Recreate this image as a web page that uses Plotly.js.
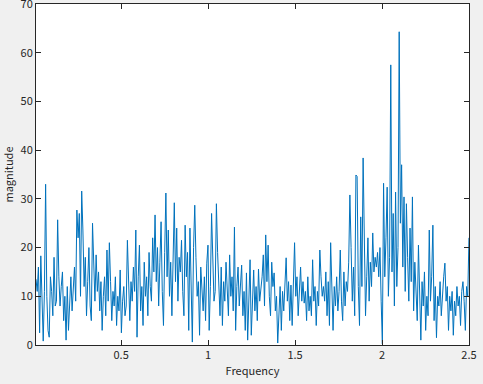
<!DOCTYPE html>
<html>
<head>
<meta charset="utf-8">
<script src="https://cdn.plot.ly/plotly-3.0.1.min.js"></script>
<style>html,body{margin:0;padding:0;background:#f0f0f0;}#chart{width:483px;height:384px;}</style>
</head>
<body>
<div id="chart"></div>
<script>
// Frequency grid (regular spacing)
const freqStart = 0.0107;
const freqStep = 0.006914;

// Spectrum magnitude values
const magnitude = [
  13.5, 11, 16, 2.5, 18.3, 7, 0.8, 11, 33, 10,
  3, 1.6, 14, 11, 6, 18, 8, 9, 25.7, 14,
  8, 12, 15, 5, 10, 1, 12, 3, 9, 14,
  7, 11, 16, 9, 27.7, 22, 27, 10, 31.6, 23.6,
  12, 18, 6, 13, 20, 8, 5, 25, 14, 9,
  18.5, 11, 15, 7, 13, 3, 10, 14, 6, 19.5,
  9, 21, 13, 5, 11, 8, 14, 4, 10, 7,
  15.4, 2.5, 9, 12, 6, 8, 21.5, 10, 5, 13,
  9, 16, 11, 23.6, 1.6, 14, 20.5, 7, 12, 4,
  17, 10, 14, 6, 19, 12, 9, 22, 15, 26.7,
  13, 20, 8, 17, 25.3, 11, 4, 19, 31.2, 14,
  23.6, 10, 17, 6, 21, 29.2, 13, 24, 9, 18,
  15, 21.5, 11, 6, 24.6, 14, 19, 3, 24, 12,
  0.6, 20, 28.7, 18, 10, 13, 2, 16, 11, 7,
  14, 5, 16.8, 20.5, 3, 12, 27, 15, 9, 11,
  29, 19, 12, 6, 16, 4, 13, 9, 17, 11,
  6, 18.5, 10, 14, 7, 24.2, 3, 12, 16, 8,
  12, 16.4, 6, 11, 3, 14.8, 1, 9, 17.5, 2,
  10, 15.4, 7, 12, 5, 15.6, 9, 11, 14, 18.5,
  8, 22.6, 13, 20.5, 10, 6, 17, 12, 14.8, 7,
  10, 0.4, 8, 12, 3, 11, 7, 14, 17.9, 9,
  13, 5, 12.3, 4, 15, 21, 10, 14, 6, 12,
  16, 9, 13, 8.6, 11, 5, 14, 7, 10, 6,
  17.5, 9, 12, 4, 11, 8, 19.5, 14, 10, 12,
  9, 15, 6, 13, 4, 21, 10, 3, 12, 8,
  14, 7, 11, 19.5, 9, 5, 15, 8, 13, 11,
  17, 30.8, 20, 9, 16, 6, 34.9, 34.6, 12, 4,
  26.3, 12, 38.4, 18, 6, 14, 22, 9, 17, 12,
  23, 15, 18, 16, 19, 14, 20, 9, 0.2, 33.2,
  14, 22, 32.4, 10, 18, 57.5, 15, 27, 8, 31.4,
  12, 20, 64.3, 25, 37, 16, 30.4, 11, 29, 18,
  9, 24, 13, 30.4, 7, 17, 10, 5, 20.5, 11,
  1, 13, 8, 15, 3, 10, 6, 23.6, 9, 14,
  24.6, 5, 12, 1.5, 10, 8, 13, 6, 11, 14,
  16.8, 9, 12, 3, 10, 7, 11, 2, 9, 6,
  12, 8, 10, 4, 11, 13, 9, 3, 12, 10,
  22
];

const xTicks = [0.5, 1, 1.5, 2, 2.5];
const xTickText = ['0.5', '1', '1.5', '2', '2.5'];
const yTicks = [0, 10, 20, 30, 40, 50, 60, 70];
const yTickText = ['0', '10', '20', '30', '40', '50', '60', '70'];

const fontFam = '"Noto Sans CJK JP", "Liberation Sans", Arial, sans-serif';
const axisCommon = {
  showgrid: false,
  zeroline: false,
  showline: true,
  linecolor: '#262626',
  linewidth: 1,
  mirror: 'ticks',
  ticks: 'inside',
  ticklen: 5,
  tickcolor: '#262626',
  ticklabeloverflow: 'allow',
  tickfont: {family: fontFam, size: 11, color: '#262626'}
};

const trace = {
  type: 'scatter',
  mode: 'lines',
  x0: freqStart,
  dx: freqStep,
  y: magnitude,
  line: {color: '#0072BD', width: 1},
  hoverinfo: 'skip'
};

const layout = {
  width: 483,
  height: 384,
  paper_bgcolor: '#f0f0f0',
  plot_bgcolor: '#ffffff',
  margin: {l: 36, r: 14, t: 4, b: 39},
  showlegend: false,
  xaxis: Object.assign({}, axisCommon, {
    range: [freqStart, 2.5],
    tickvals: xTicks,
    ticktext: xTickText,
    title: {text: 'Frequency', font: {family: fontFam, size: 11, color: '#262626'}, standoff: 6}
  }),
  yaxis: Object.assign({}, axisCommon, {
    range: [0, 70],
    tickvals: yTicks,
    ticktext: yTickText,
    title: {text: 'magnitude', font: {family: fontFam, size: 11, color: '#262626'}, standoff: 6}
  })
};

Plotly.newPlot('chart', [trace], layout, {displayModeBar: false, staticPlot: true});
</script>
</body>
</html>
